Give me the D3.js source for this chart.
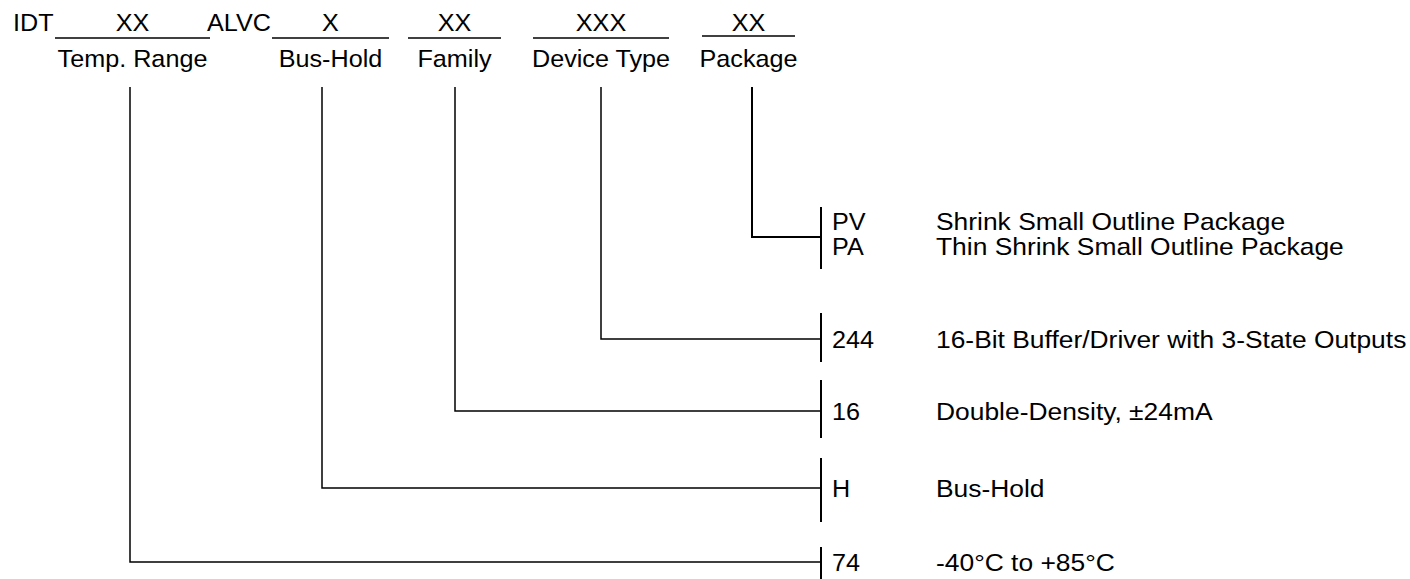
<!DOCTYPE html>
<html>
<head>
<meta charset="utf-8">
<script src="https://cdn.jsdelivr.net/npm/d3@7"></script>
<style>
  html, body { margin: 0; padding: 0; background: #fff; }
  svg text { font-family: "Liberation Sans", Arial, Helvetica, sans-serif; fill: #000; }
</style>
</head>
<body>
<svg id="chart" width="1410" height="579"></svg>
<script>
// ---- data ----
const prefix = "IDT";
const infix = "ALVC";
const fields = ["Temp. Range", "Bus-Hold", "Family", "Device Type", "Package"];
const placeholders = ["XX", "X", "XX", "XXX", "XX"];
const codes = [["74"], ["H"], ["16"], ["244"], ["PV", "PA"]];
const descriptions = [
  ["-40°C to +85°C"],
  ["Bus-Hold"],
  ["Double-Density, ±24mA"],
  ["16-Bit Buffer/Driver with 3-State Outputs"],
  ["Shrink Small Outline Package", "Thin Shrink Small Outline Package"]
];

// ---- layout ----
const FS = 24, SX = 1.05, SXD = 1.1;
const underlines = [[55, 210, 38], [272, 389, 38], [408, 501, 38], [533, 669, 38], [702, 795, 36]];
const colX = [130, 322, 455, 601, 752];
const bracketX = 821;
const brackets = [[547, 585, 562], [458, 522, 488], [380, 438, 411], [313, 362, 339], [207, 269, 237]];
const codeX = 832, descX = 936;
const lineGap = 25;

const svg = d3.select("#chart");
const g = svg.append("g");

function txt(x, y, s, anchor, sx) {
  g.append("text")
    .attr("transform", `translate(${x},${y}) scale(${sx || SX},1)`)
    .attr("text-anchor", anchor || "start")
    .style("font-size", FS + "px")
    .text(s);
}

// top row
txt(13, 31, prefix);
txt(207, 31, infix);
fields.forEach((f, i) => {
  const [x1, x2, y] = underlines[i];
  g.append("line").attr("x1", x1).attr("x2", x2).attr("y1", y).attr("y2", y)
    .attr("stroke", "#000").attr("stroke-width", 1.5);
  txt((x1 + x2) / 2, 31, placeholders[i], "middle");
  txt((x1 + x2) / 2, 67, f, "middle");
});

// connectors
fields.forEach((f, i) => {
  const [b1, b2, h] = brackets[i];
  const x = colX[i];
  const sw = i === 4 ? 2 : 1.5;
  g.append("path")
    .attr("d", `M${x},87 V${h} H${bracketX}`)
    .attr("fill", "none").attr("stroke", "#000").attr("stroke-width", sw);
  g.append("line").attr("x1", bracketX).attr("x2", bracketX).attr("y1", b1).attr("y2", b2)
    .attr("stroke", "#000").attr("stroke-width", 2);
  const n = codes[i].length;
  const off = n > 1 ? 5.5 : 8.5;
  codes[i].forEach((c, j) => {
    const y = h + off + (j - (n - 1) / 2) * lineGap;
    txt(codeX, y, c);
    txt(descX, y, descriptions[i][j], "start", SXD);
  });
});
</script>
</body>
</html>
